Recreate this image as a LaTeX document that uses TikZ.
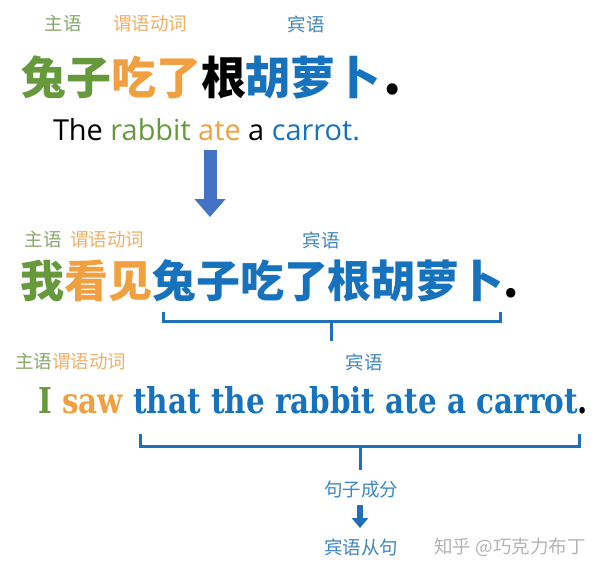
\documentclass[tikz,border=0pt]{standalone}
\usepackage{fontspec}
\usepackage{graphicx}
\usetikzlibrary{arrows.meta}
\newfontfamily\cjk{Noto Sans CJK SC}
\newfontfamily\opensans{Open Sans}
\newfontfamily\dserif{DejaVu Serif}
\definecolor{cgreen}{HTML}{65993B}
\definecolor{corange}{HTML}{F0A040}
\definecolor{cblue}{HTML}{1772BD}
\definecolor{lgreen}{HTML}{88A86A}
\definecolor{lorange}{HTML}{EDB06A}
\definecolor{lblue}{HTML}{3F86C0}
\definecolor{arrowblue}{HTML}{4472C4}
\definecolor{braceblue}{HTML}{1F70B8}
\definecolor{wmgray}{HTML}{B4B4B4}
\tikzset{
  txt/.style={inner sep=0pt, outer sep=0pt},
  lab/.style={txt, font=\cjk\fontsize{18.5}{20}\selectfont},
  big/.style={txt, anchor=base west},
  bracket/.style={braceblue, line width=3pt, line join=miter, line cap=butt},
}
\begin{document}
\begin{tikzpicture}[x=1pt,y=-1pt]
\useasboundingbox (0,0) rectangle (600,573);
% row 1
\node[lab, text=lgreen] (l1s) at (63,24) {主语};
\node[lab, text=lorange] (l1v) at (150,24) {谓语动词};
\node[lab, text=lblue] (l1o) at (306,24) {宾语};
\node[big] (zh1) at (21,94) {\cjk\bfseries\fontsize{45}{50}\selectfont
  {\color{cgreen}兔子}{\color{corange}吃了}{\color{black}根}{\color{cblue}胡萝卜}\hspace{3pt}{\color{black}\fontsize{52}{50}\selectfont.}};
\node[big] (en1) at (53,140) {\resizebox{307pt}{!}{\opensans
  {\color{black}The }{\color{cgreen}rabbit }{\color{corange}ate }{\color{black}a }{\color{cblue}carrot.}}};
% big arrow
\coordinate (a1top) at (210,150);
\coordinate (a1tip) at (210,217);
\draw[arrowblue, line width=13pt, -{Triangle[width=30pt,length=18pt]}] (a1top) -- (a1tip);
% row 2
\node[lab, text=lgreen] (l2s) at (43,240) {主语};
\node[lab, text=lorange] (l2v) at (107,240) {谓语动词};
\node[lab, text=lblue] (l2o) at (321,240) {宾语};
\node[big] (zh2) at (20,297) {\cjk\bfseries\fontsize{44}{50}\selectfont
  {\color{cgreen}我}{\color{corange}看见}{\color{cblue}兔子吃了根胡萝卜}{\color{black}.}};
% bracket 1
\coordinate (b1l) at (163,312);
\coordinate (b1r) at (500,312);
\coordinate (b1m) at (331,321);
\coordinate (b1e) at (331,341);
\draw[bracket] (b1l) -- (b1l |- b1m) -- (b1r |- b1m) -- (b1r);
\draw[bracket] (b1m) -- (b1e);
% row 3
\node[lab, text=lgreen, anchor=west] (l3s) at (15,362) {主语};
\node[lab, text=lorange, anchor=west] (l3v) at (l3s.east) {谓语动词};
\node[lab, text=lblue] (l3o) at (364,362) {宾语};
\node[big] (en2) at (38,413) {\resizebox{550pt}{27pt}{\dserif\bfseries
  {\color{cgreen}I }{\color{corange}saw }{\color{cblue}that the rabbit ate a carrot}{\color{black}.}}};
% bracket 2
\coordinate (b2l) at (140,434);
\coordinate (b2r) at (579,434);
\coordinate (b2m) at (360,446);
\coordinate (b2e) at (360,470);
\draw[bracket] (b2l) -- (b2l |- b2m) -- (b2r |- b2m) -- (b2r);
\draw[bracket] (b2m) -- (b2e);
% bottom
\node[lab, text=lblue] (cf) at (361,490) {句子成分};
\node[lab, text=lblue] (bc) at (361,547) {宾语从句};
\coordinate (a2top) at (360,505);
\coordinate (a2tip) at (360,528);
\draw[braceblue, line width=6pt, -{Triangle[width=16pt,length=10pt]}] (a2top) -- (a2tip);
\node[lab, text=wmgray] (wm) at (510,547) {知乎 @巧克力布丁};
\end{tikzpicture}
\end{document}
